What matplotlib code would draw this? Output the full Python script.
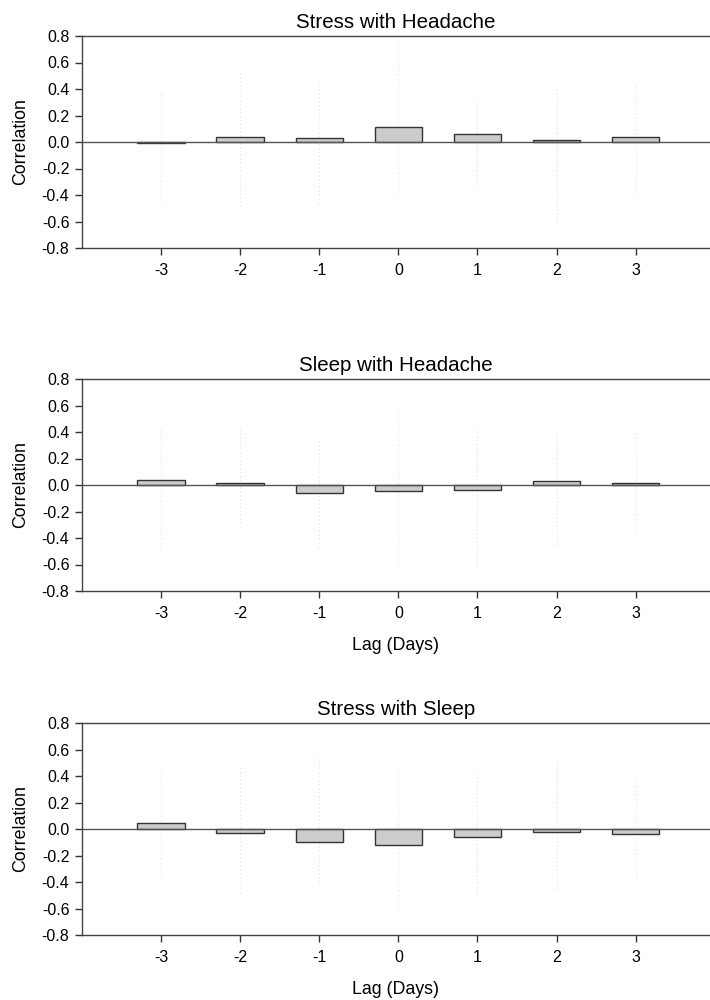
import matplotlib
matplotlib.use("Agg")
import matplotlib.pyplot as plt

plt.rcParams['font.family'] = ['Liberation Sans', 'DejaVu Sans']

lags = [-3, -2, -1, 0, 1, 2, 3]
lag_labels = ["-3", "-2", "-1", "0", "1", "2", "3"]

titles = ["Stress with Headache", "Sleep with Headache", "Stress with Sleep"]

stress_headache = [-0.01, 0.04, 0.03, 0.115, 0.06, 0.015, 0.04]
sleep_headache = [0.038, 0.015, -0.06, -0.045, -0.04, 0.03, 0.015]
stress_sleep = [0.043, -0.028, -0.10, -0.123, -0.058, -0.02, -0.04]

# faint dotted vertical ranges
upper_sh = [0.37, 0.54, 0.45, 0.75, 0.32, 0.42, 0.42]
lower_sh = [-0.44, -0.48, -0.46, -0.38, -0.34, -0.60, -0.38]
upper_slh = [0.43, 0.44, 0.33, 0.60, 0.45, 0.40, 0.40]
lower_slh = [-0.50, -0.32, -0.47, -0.60, -0.60, -0.45, -0.35]
upper_ss = [0.45, 0.47, 0.54, 0.43, 0.42, 0.52, 0.40]
lower_ss = [-0.35, -0.48, -0.40, -0.59, -0.50, -0.45, -0.36]

yticks = [-0.8, -0.6, -0.4, -0.2, 0.0, 0.2, 0.4, 0.6, 0.8]

series = [stress_headache, sleep_headache, stress_sleep]
uppers = [upper_sh, upper_slh, upper_ss]
lowers = [lower_sh, lower_slh, lower_ss]
xlabels = [None, "Lag (Days)", "Lag (Days)"]

fig = plt.figure(figsize=(7.1, 10), dpi=100)
left = 82 / 710
width = 1.0 - left
tops = [36, 379, 723]
h = 212

for i in range(3):
    top = tops[i]
    ax = fig.add_axes([left, 1 - (top + h) / 1000, width, h / 1000])
    ax.vlines(lags, lowers[i], uppers[i], colors='#d8d8d8', linestyles=(0, (1, 3)),
              linewidth=0.7, zorder=1)
    ax.bar(lags, series[i], width=0.6, color='#cccccc', edgecolor='#333333',
           linewidth=1.0, zorder=2)
    ax.axhline(0, color='#555555', linewidth=1.0, zorder=3)
    ax.set_xlim(-4, 3.94)
    ax.set_ylim(-0.8, 0.8)
    ax.set_yticks(yticks)
    ax.set_yticklabels([f"{v:.1f}" for v in yticks])
    ax.set_xticks(lags)
    ax.set_xticklabels(lag_labels)
    ax.tick_params(direction='out', length=5, width=1, colors='#333333',
                   labelcolor='black', labelsize=11.5)
    ax.tick_params(axis='x', pad=6)
    ax.tick_params(axis='y', pad=4)
    ax.spines['right'].set_visible(False)
    for s in ['left', 'bottom', 'top']:
        ax.spines[s].set_color('#444444')
        ax.spines[s].set_linewidth(1.0)
    ax.set_title(titles[i], fontsize=14.8, pad=6)
    ax.set_ylabel("Correlation", fontsize=12.8, labelpad=9)
    if xlabels[i]:
        ax.set_xlabel(xlabels[i], fontsize=12.8, labelpad=11)

fig.savefig("out.png", dpi=100)
